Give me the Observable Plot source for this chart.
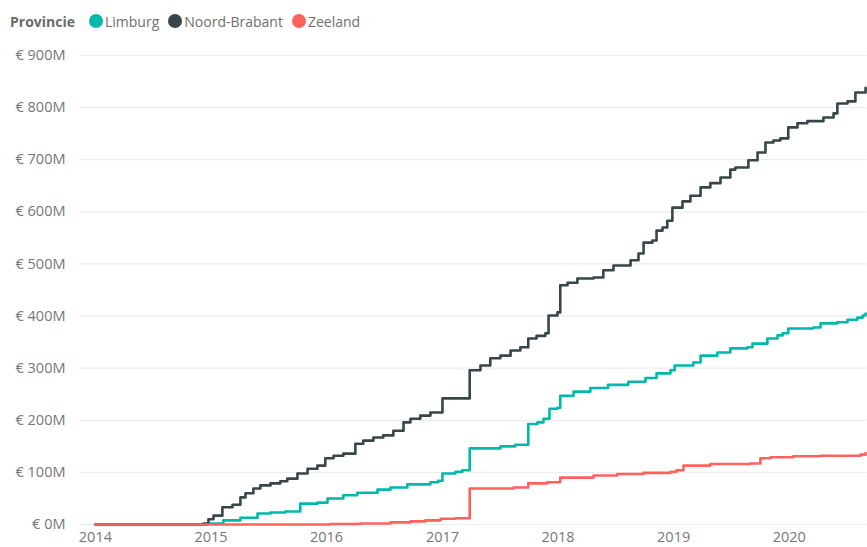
<!DOCTYPE html>
<html>
<head>
<meta charset="utf-8">
<script src="https://cdn.jsdelivr.net/npm/d3@7"></script>
<script src="https://cdn.jsdelivr.net/npm/@observablehq/plot@0.6"></script>
<style>
  html, body { margin: 0; padding: 0; background: #fff; }
  #chart { width: 867px; }
  .legend { height: 40px; box-sizing: border-box; padding: 2px 0 0 10px; display: flex; align-items: center;
            font-family: "Open Sans", "Noto Sans", sans-serif; font-size: 14px; color: #6f6f6f; }
  .legend .title { font-weight: bold; color: #6a6a6a; margin-right: 14px; }
  .legend .item { display: flex; align-items: center; margin-right: 9px; }
  .legend .dot { width: 14px; height: 14px; border-radius: 50%; margin-right: 2px; }
</style>
</head>
<body>
<div id="chart"></div>
<script>
const legendTitle = "Provincie";
const provinces = ["Limburg", "Noord-Brabant", "Zeeland"];
const colors = ["#01B8AA", "#374649", "#FD625E"];
const yTicks = [0, 100, 200, 300, 400, 500, 600, 700, 800, 900];
const xTicks = ["2014", "2015", "2016", "2017", "2018", "2019", "2020"];

// cumulative amounts in € millions, [date, value]
const limburg = [
  ["2014-01-01", 0], ["2014-12-21", 2], ["2015-02-09", 8], ["2015-04-04", 13], ["2015-05-28", 21],
  ["2015-07-08", 23], ["2015-08-24", 25], ["2015-10-10", 40], ["2015-12-03", 42], ["2016-01-04", 50],
  ["2016-02-23", 56], ["2016-04-07", 61], ["2016-06-10", 67], ["2016-07-21", 71], ["2016-09-12", 77],
  ["2016-11-24", 81], ["2016-12-19", 84], ["2017-01-01", 98], ["2017-02-11", 101], ["2017-03-05", 104],
  ["2017-03-28", 146], ["2017-07-03", 150], ["2017-08-19", 153], ["2017-09-29", 193], ["2017-10-28", 196],
  ["2017-11-16", 203], ["2017-12-05", 222], ["2017-12-30", 224], ["2018-01-08", 247], ["2018-02-19", 255],
  ["2018-04-13", 262], ["2018-06-08", 268], ["2018-08-11", 274], ["2018-10-04", 281], ["2018-11-08", 290],
  ["2018-12-22", 296], ["2019-01-04", 305], ["2019-03-04", 311], ["2019-03-27", 324], ["2019-05-19", 330],
  ["2019-06-29", 338], ["2019-08-22", 340], ["2019-09-07", 347], ["2019-10-24", 357], ["2019-11-25", 363],
  ["2019-12-11", 367], ["2019-12-29", 376], ["2020-03-17", 378], ["2020-04-09", 386], ["2020-06-01", 388],
  ["2020-07-03", 393], ["2020-08-03", 397], ["2020-08-20", 401], ["2020-08-29", 405]
];
const noordBrabant = [
  ["2014-01-01", 0], ["2014-12-08", 2], ["2014-12-24", 10], ["2015-01-09", 17], ["2015-02-06", 33],
  ["2015-03-10", 38], ["2015-04-04", 52], ["2015-04-20", 60], ["2015-05-15", 69], ["2015-06-06", 75],
  ["2015-07-08", 79], ["2015-08-08", 83], ["2015-08-30", 88], ["2015-10-01", 98], ["2015-11-02", 107],
  ["2015-12-03", 113], ["2015-12-28", 127], ["2016-01-23", 132], ["2016-02-23", 136], ["2016-04-01", 155],
  ["2016-04-26", 161], ["2016-05-28", 167], ["2016-06-28", 171], ["2016-07-30", 180], ["2016-08-31", 196],
  ["2016-09-22", 203], ["2016-10-23", 209], ["2016-11-24", 215], ["2017-01-01", 242], ["2017-03-28", 296],
  ["2017-05-01", 305], ["2017-06-01", 319], ["2017-07-03", 324], ["2017-08-04", 334], ["2017-09-04", 340],
  ["2017-09-29", 357], ["2017-10-25", 362], ["2017-11-22", 367], ["2017-12-02", 401], ["2017-12-30", 407],
  ["2018-01-08", 459], ["2018-01-31", 464], ["2018-03-03", 472], ["2018-04-23", 474], ["2018-05-24", 488],
  ["2018-06-25", 497], ["2018-08-18", 507], ["2018-09-12", 520], ["2018-09-28", 541], ["2018-10-26", 545],
  ["2018-11-08", 564], ["2018-11-27", 570], ["2018-12-12", 583], ["2018-12-28", 608], ["2019-01-29", 620],
  ["2019-02-23", 631], ["2019-03-27", 647], ["2019-04-27", 655], ["2019-05-29", 666], ["2019-06-29", 681],
  ["2019-07-15", 685], ["2019-08-25", 699], ["2019-09-23", 714], ["2019-10-18", 733], ["2019-11-12", 737],
  ["2019-12-04", 741], ["2019-12-29", 762], ["2020-01-27", 770], ["2020-02-27", 774], ["2020-04-18", 781],
  ["2020-05-20", 789], ["2020-06-01", 808], ["2020-07-03", 812], ["2020-07-28", 829], ["2020-08-29", 838]
];
const zeeland = [
  ["2014-01-01", 0], ["2016-01-13", 1], ["2016-04-17", 2], ["2016-07-21", 4], ["2016-09-22", 6],
  ["2016-11-08", 8], ["2016-12-26", 11], ["2017-02-11", 12], ["2017-03-28", 69], ["2017-08-13", 71],
  ["2017-09-29", 79], ["2017-11-28", 81], ["2018-01-08", 90], ["2018-04-23", 94], ["2018-07-07", 97],
  ["2018-09-28", 99], ["2018-12-22", 101], ["2019-01-10", 104], ["2019-02-01", 113], ["2019-04-27", 116],
  ["2019-08-31", 117], ["2019-10-02", 127], ["2019-11-03", 129], ["2020-01-14", 131], ["2020-04-09", 132],
  ["2020-08-13", 134], ["2020-08-29", 137]
];

const seriesList = [limburg, noordBrabant, zeeland];
const rows = seriesList.flatMap((s, i) => s.map(([d, v]) => ({prov: provinces[i], date: new Date(d), value: v})));

// legend
const chart = document.getElementById("chart");
const legend = document.createElement("div");
legend.className = "legend";
legend.innerHTML = `<span class="title">${legendTitle}</span>` +
  provinces.map((p, i) => `<span class="item"><span class="dot" style="background:${colors[i]}"></span>${p}</span>`).join("");
chart.appendChild(legend);

const plot = Plot.plot({
  width: 867,
  height: 507,
  marginLeft: 80,
  marginRight: 1,
  marginTop: 15,
  marginBottom: 23,
  style: {fontFamily: "'Open Sans', 'Noto Sans', sans-serif", fontSize: "14.5px", color: "#777", background: "#fff", overflow: "visible"},
  x: {type: "utc", domain: [new Date("2013-11-15"), new Date("2020-09-01")], ticks: xTicks.map(t => new Date(t)),
      tickFormat: d3.utcFormat("%Y"), tickSize: 0, tickPadding: 7, label: null},
  y: {domain: [0, 900], ticks: yTicks, tickFormat: d => `€ ${d}M`, tickSize: 0, tickPadding: 15, label: null},
  color: {domain: provinces, range: colors},
  marks: [
    Plot.ruleY(yTicks, {stroke: "#ececec", strokeWidth: 1.2}),
    Plot.line(rows, {x: "date", y: "value", z: "prov", stroke: "prov", curve: "step-after", strokeWidth: 2.6})
  ]
});
chart.appendChild(plot);
</script>
</body>
</html>
